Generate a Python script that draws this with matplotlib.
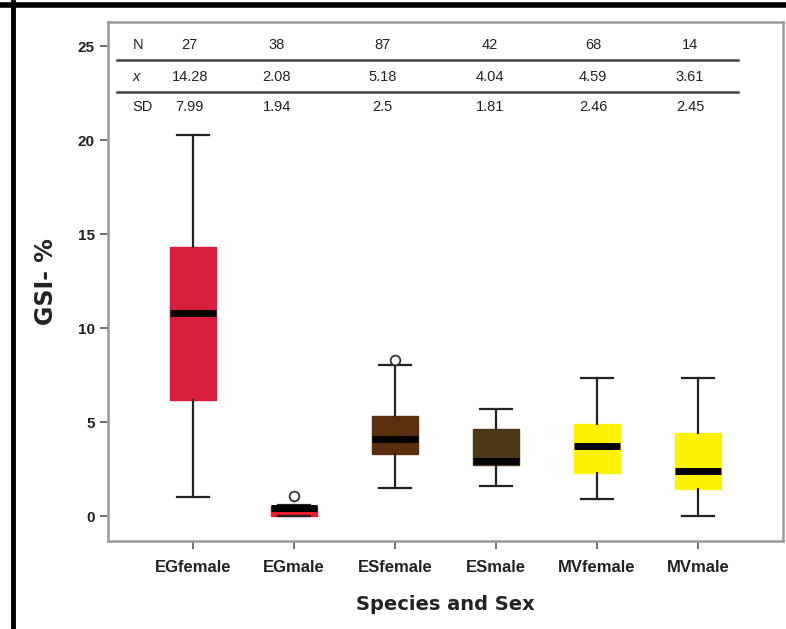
import matplotlib.pyplot as plt
from matplotlib.lines import Line2D

# GSI (%) por grupo: espécie + sexo
grupos = ["EGfemale", "EGmale", "ESfemale", "ESmale", "MVfemale", "MVmale"]
whis_lo = [1.03, 0.0, 1.49, 1.6, 0.9, 0.02]
q1 = [6.15, 0.02, 3.3, 2.7, 2.3, 1.43]
mediana = [10.8, 0.45, 4.1, 2.94, 3.72, 2.41]
q3 = [14.3, 0.55, 5.3, 4.63, 4.9, 4.43]
whis_hi = [20.3, 0.6, 8.05, 5.7, 7.36, 7.36]
outliers = [[], [1.05], [8.3], [], [], []]
cores = ["#d81e3c", "#ee1a2e", "#5b2e0e", "#4a3914", "#fff200", "#fff200"]

# tabela de resumo
n_tab = ["27", "38", "87", "42", "68", "14"]
media_tab = ["14.28", "2.08", "5.18", "4.04", "4.59", "3.61"]
sd_tab = ["7.99", "1.94", "2.5", "1.81", "2.46", "2.45"]


def plotar_grafico():
    fig = plt.figure(figsize=(7.86, 6.29), dpi=100)
    ax = fig.add_axes([108 / 786, 88 / 629, 675 / 786, 519 / 629])

    stats = []
    for i, g in enumerate(grupos):
        stats.append({"label": g, "whislo": whis_lo[i], "q1": q1[i], "med": mediana[i],
                      "q3": q3[i], "whishi": whis_hi[i], "fliers": outliers[i]})

    bp = ax.bxp(stats, positions=range(1, 7), widths=0.46, patch_artist=True,
                showfliers=True,
                whiskerprops=dict(color="#222222", linewidth=1.6),
                capprops=dict(color="#222222", linewidth=1.6),
                medianprops=dict(color="black", linewidth=5, solid_capstyle="butt"),
                flierprops=dict(marker="o", markerfacecolor="white",
                                markeredgecolor="#333333", markersize=7, markeredgewidth=1.3))
    for caixa, c in zip(bp["boxes"], cores):
        caixa.set_facecolor(c)
        caixa.set_edgecolor(c)
    for cap in bp["caps"]:
        xs = cap.get_xdata()
        meio = (xs[0] + xs[1]) / 2
        cap.set_xdata([meio - 0.16, meio + 0.16])

    ax.set_xlim(0.16, 6.84)
    ax.set_ylim(-1.33, 26.3)
    ax.set_yticks([0, 5, 10, 15, 20, 25])
    ax.set_yticklabels(["0", "5", "10", "15", "20", "25"], fontsize=11,
                       fontweight="bold", family="Liberation Sans", color="#222222")
    ax.set_xticks(range(1, 7))
    ax.set_xticklabels(grupos, fontsize=12, fontweight="bold", family="Liberation Sans",
                       color="#222222")
    ax.tick_params(axis="both", direction="out", length=6, width=1.3, color="#666666")
    ax.tick_params(axis="x", pad=8)
    for s in ax.spines.values():
        s.set_color("#9a9a9a")
        s.set_linewidth(1.8)

    ax.set_xlabel("Species and Sex", fontsize=14, fontweight="bold", labelpad=14,
                  color="#222222")
    ax.set_ylabel("GSI- %", fontsize=17, fontweight="bold", labelpad=14, color="#222222")

    # tabela N / media / SD no topo
    col_x = [0.97, 1.83, 2.88, 3.94, 4.96, 5.92]
    linhas = [("N", n_tab, 25.05, "normal"), ("x", media_tab, 23.35, "italic"),
              ("SD", sd_tab, 21.8, "normal")]
    for rot, valores, y, estilo in linhas:
        ax.text(0.40, y, rot, fontsize=10.5, ha="left", va="center", style=estilo,
                family="Liberation Sans", color="#222222")
        for xc, v in zip(col_x, valores):
            ax.text(xc, y, v, fontsize=10.5, ha="center", va="center",
                    family="Liberation Sans", color="#222222")
    for y in [24.26, 22.6]:
        ax.plot([0.25, 6.39], [y, y], color="#444444", linewidth=1.8)

    # moldura preta (topo e esquerda)
    fig.add_artist(Line2D([0, 1], [1 - 4.5 / 629, 1 - 4.5 / 629], color="black",
                          linewidth=4, transform=fig.transFigure))
    fig.add_artist(Line2D([13 / 786, 13 / 786], [0, 1 - 2 / 629], color="black",
                          linewidth=3.5, transform=fig.transFigure))

    fig.savefig("out.png", dpi=100)


if __name__ == "__main__":
    plotar_grafico()
